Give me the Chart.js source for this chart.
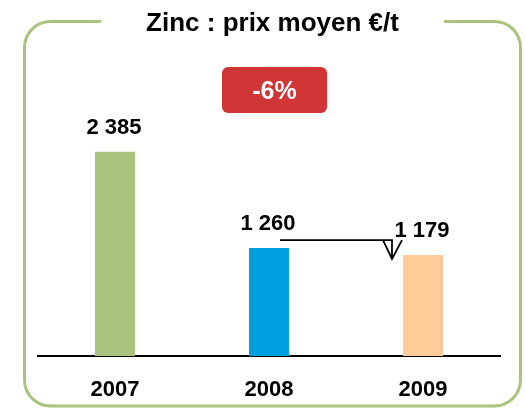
<!DOCTYPE html>
<html>
<head>
<meta charset="utf-8">
<script src="https://cdn.jsdelivr.net/npm/chart.js@4"></script>
<style>
  html, body { margin: 0; padding: 0; background: #fff; }
</style>
</head>
<body>
<canvas id="chart" width="525" height="408"></canvas>
<script>
const years = ["2007", "2008", "2009"];
const prices = [2385, 1260, 1179];
const barColors = ["#A9C47F", "#009FDF", "#FFCC99"];
const chartTitle = "Zinc : prix moyen €/t";
const changeLabel = "-6%";
const yMax = 3000;

const FONT = "'Liberation Sans', Arial, sans-serif";

function fmt(v) {
  return v.toString().replace(/\B(?=(\d{3})+(?!\d))/g, " ");
}

// frame with title sitting in a gap of the top border
const framePlugin = {
  id: "frame",
  beforeDraw(chart) {
    const ctx = chart.ctx;
    const left = 24.5, right = 520.5, top = 21.5, bottom = 406, r = 26;
    const cx = (left + right) / 2;

    ctx.save();
    ctx.font = "bold 26px " + FONT;
    const tw = ctx.measureText(chartTitle).width;
    const gapL = cx - tw / 2 - 45;
    const gapR = cx + tw / 2 + 45;

    ctx.strokeStyle = "#A9C47F";
    ctx.lineWidth = 3;
    ctx.beginPath();
    ctx.moveTo(gapL, top);
    ctx.lineTo(left + r, top);
    ctx.arcTo(left, top, left, top + r, r);
    ctx.lineTo(left, bottom - r);
    ctx.arcTo(left, bottom, left + r, bottom, r);
    ctx.lineTo(right - r, bottom);
    ctx.arcTo(right, bottom, right, bottom - r, r);
    ctx.lineTo(right, top + r);
    ctx.arcTo(right, top, right - r, top, r);
    ctx.lineTo(gapR, top);
    ctx.stroke();

    ctx.fillStyle = "#000";
    ctx.textAlign = "center";
    ctx.textBaseline = "alphabetic";
    ctx.fillText(chartTitle, cx, 31);
    ctx.restore();
  },
  afterDatasetsDraw(chart) {
    const ctx = chart.ctx;
    const meta = chart.getDatasetMeta(0);
    const xs = chart.scales.x;
    const ys = chart.scales.y;

    ctx.save();
    // value labels
    ctx.font = "bold 22px " + FONT;
    ctx.fillStyle = "#000";
    ctx.textAlign = "center";
    ctx.textBaseline = "alphabetic";
    meta.data.forEach((bar, i) => {
      ctx.fillText(fmt(prices[i]), bar.x - 1, bar.y - 18);
    });

    // arrow from 2008 level to 2009
    const yLine = ys.getPixelForValue(prices[1]) - 8;
    const x0 = xs.getPixelForValue(1) + 11;
    const x1 = xs.getPixelForValue(2) - 31;
    const yTip = ys.getPixelForValue(prices[2]) + 4;
    ctx.strokeStyle = "#000";
    ctx.lineWidth = 1.8;
    ctx.beginPath();
    ctx.moveTo(x0, yLine);
    ctx.lineTo(x1, yLine);
    ctx.lineTo(x1, yTip - 2);
    ctx.stroke();
    ctx.beginPath();
    ctx.moveTo(x1 - 9, yLine);
    ctx.lineTo(x1, yTip);
    ctx.lineTo(x1 + 10, yLine);
    ctx.stroke();

    // change badge
    const bx = 222, by = 67, bw = 105, bh = 46;
    ctx.fillStyle = "#D03636";
    ctx.beginPath();
    ctx.roundRect(bx, by, bw, bh, 6);
    ctx.fill();
    ctx.fillStyle = "#fff";
    ctx.font = "bold 25px " + FONT;
    ctx.fillText(changeLabel, bx + bw / 2, 99);
    ctx.restore();
  }
};

new Chart(document.getElementById("chart"), {
  type: "bar",
  data: {
    labels: years,
    datasets: [{
      data: prices,
      backgroundColor: barColors,
      borderWidth: 0,
      barPercentage: 0.26,
      categoryPercentage: 1
    }]
  },
  options: {
    responsive: false,
    animation: false,
    layout: { padding: { left: 38, right: 25, top: 99, bottom: 6 } },
    plugins: {
      legend: { display: false },
      tooltip: { enabled: false }
    },
    scales: {
      x: {
        grid: { display: false, drawTicks: false },
        border: { display: true, color: "#000", width: 2 },
        ticks: {
          color: "#000",
          padding: 21,
          font: { family: FONT, size: 22, weight: "bold" }
        },
        afterFit(scale) {
          scale.height = 46;
        }
      },
      y: {
        display: false,
        min: 0,
        max: yMax
      }
    }
  },
  plugins: [framePlugin]
});
</script>
</body>
</html>
